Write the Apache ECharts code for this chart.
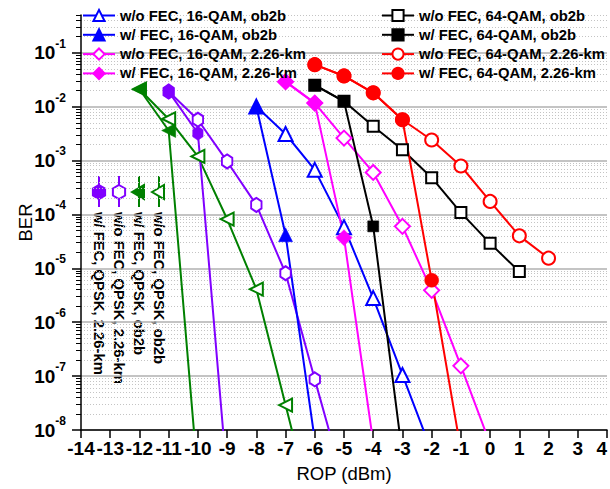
<!DOCTYPE html>
<html><head><meta charset="utf-8">
<script src="https://cdn.jsdelivr.net/npm/echarts@6/dist/echarts.min.js"></script>
<style>html,body{margin:0;padding:0;background:#fff}#c{width:610px;height:489px}</style>
</head><body><div id="c"></div>
<script>
// ---- data (ROP in dBm, BER) ----
const woQpskOb2bX = [-12, -11, -10, -9, -8, -7, -6];
const woQpskOb2bY = [2.1e-2, 5.9e-3, 1.19e-3, 8.2e-5, 4.1e-6, 2.9e-8, 2.1e-10];
const wQpskOb2bX = [-12, -11, -10];
const wQpskOb2bY = [2.1e-2, 3.6e-3, 1.3e-9];
const woQpsk226X = [-11, -10, -9, -8, -7, -6, -5];
const woQpsk226Y = [1.9e-2, 5.7e-3, 9.6e-4, 1.5e-4, 8.1e-6, 8.7e-8, 1.0e-9];
const wQpsk226X = [-11, -10, -9];
const wQpsk226Y = [1.9e-2, 3.2e-3, 1.3e-9];

const wo16Ob2bX = [-8, -7, -6, -5, -4, -3, -2];
const wo16Ob2bY = [1.0e-2, 3.1e-3, 6.7e-4, 5.8e-5, 2.8e-6, 1.05e-7, 4.0e-9];
const w16Ob2bX = [-8, -7, -6];
const w16Ob2bY = [1.0e-2, 4.2e-5, 6.5e-9];
const wo16226X = [-7, -6, -5, -4, -3, -2, -1, 0];
const wo16226Y = [2.9e-2, 1.16e-2, 2.6e-3, 6.0e-4, 6.0e-5, 3.9e-6, 1.55e-7, 5.5e-9];
const w16226X = [-7, -6, -5, -4];
const w16226Y = [2.9e-2, 1.16e-2, 3.7e-5, 5.9e-9];

const wo64Ob2bX = [-6, -5, -4, -3, -2, -1, 0, 1];
const wo64Ob2bY = [2.5e-2, 1.25e-2, 4.3e-3, 1.58e-3, 4.8e-4, 1.08e-4, 2.9e-5, 8.7e-6];
const w64Ob2bX = [-6, -5, -4, -3];
const w64Ob2bY = [2.5e-2, 1.25e-2, 6.0e-5, 3.4e-9];
const wo64226X = [-6, -5, -4, -3, -2, -1, 0, 1, 2];
const wo64226Y = [6.0e-2, 3.7e-2, 1.8e-2, 5.7e-3, 2.4e-3, 7.9e-4, 1.74e-4, 4.0e-5, 1.54e-5];
const w64226X = [-6, -5, -4, -3, -2, -1];
const w64226Y = [6.0e-2, 3.7e-2, 1.8e-2, 5.7e-3, 6.0e-6, 4.2e-9];

const yMajorTicks = [1e-8, 1e-7, 1e-6, 1e-5, 1e-4, 1e-3, 1e-2, 1e-1];
const yMinorMult = [2, 3, 4, 5, 6, 7, 8, 9];

const legendLeft = ['w/o FEC, 16-QAM, ob2b', 'w/ FEC, 16-QAM, ob2b', 'w/o FEC, 16-QAM, 2.26-km', 'w/ FEC, 16-QAM, 2.26-km'];
const legendRight = ['w/o FEC, 64-QAM, ob2b', 'w/ FEC, 64-QAM, ob2b', 'w/o FEC, 64-QAM, 2.26-km', 'w/ FEC, 64-QAM, 2.26-km'];
const legendQpsk = ['w/ FEC, QPSK, 2.26-km', 'w/o FEC, QPSK, 2.26-km', 'w/ FEC, QPSK, ob2b', 'w/o FEC, QPSK, ob2b'];

// ---- styling ----
const BLUE = '#0000ff', MAG = '#ff00ff', BLK = '#000000', RED = '#ff0000', GRN = '#008000', PUR = '#8000ff';
const FONT = '"Liberation Sans", Arial, sans-serif';
const HEX = 'path://M0,-1 L0.866,-0.5 L0.866,0.5 L0,1 L-0.866,0.5 L-0.866,-0.5 Z';

const yMinorTicks = [];
for (const d of yMajorTicks.concat([1])) {
  for (const k of yMinorMult) {
    const v = k * d / 10;
    if (v > 1e-8 && v <= 0.5) yMinorTicks.push(v);
  }
}

function zip(xs, ys) { return xs.map((x, i) => [x, ys[i]]); }
function ser(name, xs, ys, color, symbol, size, open, rot) {
  return {
    name, type: 'line', data: zip(xs, ys), showAllSymbol: true, clip: true,
    symbol, symbolSize: size, symbolRotate: rot || 0, symbolKeepAspect: true,
    lineStyle: { color, width: 2 },
    itemStyle: open ? { color: '#ffffff', borderColor: color, borderWidth: 2 } : { color, borderColor: color, borderWidth: 0.5 },
    emphasis: { disabled: true }, animation: false
  };
}

const series = [
  ser('w/o FEC, QPSK, ob2b', woQpskOb2bX, woQpskOb2bY, GRN, 'triangle', 13, true, 90),
  ser('w/o FEC, QPSK, 2.26-km', woQpsk226X, woQpsk226Y, PUR, HEX, [12, 14], true),
  ser('w/o FEC, 16-QAM, ob2b', wo16Ob2bX, wo16Ob2bY, BLUE, 'triangle', 14, true),
  ser('w/o FEC, 16-QAM, 2.26-km', wo16226X, wo16226Y, MAG, 'diamond', 15, true),
  ser('w/o FEC, 64-QAM, ob2b', wo64Ob2bX, wo64Ob2bY, BLK, 'rect', 11, true),
  ser('w/o FEC, 64-QAM, 2.26-km', wo64226X, wo64226Y, RED, 'circle', 13, true),
  ser('w/ FEC, QPSK, ob2b', wQpskOb2bX, wQpskOb2bY, GRN, 'triangle', 14, false, 90),
  ser('w/ FEC, QPSK, 2.26-km', wQpsk226X, wQpsk226Y, PUR, HEX, [12, 14], false),
  ser('w/ FEC, 16-QAM, ob2b', w16Ob2bX, w16Ob2bY, BLUE, 'triangle', 14, false),
  ser('w/ FEC, 16-QAM, 2.26-km', w16226X, w16226Y, MAG, 'diamond', 16, false),
  ser('w/ FEC, 64-QAM, ob2b', w64Ob2bX, w64Ob2bY, BLK, 'rect', 11, false),
  ser('w/ FEC, 64-QAM, 2.26-km', w64226X, w64226Y, RED, 'circle', 14, false)
];

// rotated QPSK legend drawn as graphics
const qpskStyle = [
  { color: PUR, shape: 'hex', open: false },
  { color: PUR, shape: 'hex', open: true },
  { color: GRN, shape: 'tri', open: false },
  { color: GRN, shape: 'tri', open: true }
];
const qGraphics = [];
legendQpsk.forEach((name, i) => {
  const st = qpskStyle[i];
  const cx = 99 + i * 20, cy = 192;
  qGraphics.push({ type: 'line', shape: { x1: cx, y1: 176, x2: cx, y2: 207 }, style: { stroke: st.color, lineWidth: 2 } });
  let pts;
  if (st.shape === 'hex') {
    pts = [[cx, cy - 7], [cx + 6.1, cy - 3.5], [cx + 6.1, cy + 3.5], [cx, cy + 7], [cx - 6.1, cy + 3.5], [cx - 6.1, cy - 3.5]];
  } else {
    pts = [[cx - 7, cy], [cx + 5, cy - 7], [cx + 5, cy + 7]];
  }
  qGraphics.push({ type: 'polygon', shape: { points: pts }, style: { fill: st.open ? '#fff' : st.color, stroke: st.color, lineWidth: 2 } });
  qGraphics.push({
    type: 'text', x: cx, y: 212, rotation: -Math.PI / 2,
    style: { text: name, fill: '#000', fontSize: 14.8, fontWeight: 'bold', fontFamily: FONT, align: 'left', verticalAlign: 'middle' }
  });
});

const legendCommon = {
  orient: 'vertical', itemWidth: 32, itemHeight: 14, itemGap: 4.3, padding: 0,
  selectedMode: false,
  textStyle: { fontSize: 14.8, fontWeight: 'bold', fontFamily: FONT, color: '#000', lineHeight: 14 }
};

const option = {
  backgroundColor: '#ffffff',
  textStyle: { fontFamily: FONT },
  animation: false,
  grid: { left: 81, right: 3, top: 15, bottom: 59, containLabel: false, outerBoundsMode: 'none' },
  legend: [
    Object.assign({ data: legendLeft, left: 82, top: 8 }, legendCommon),
    Object.assign({ data: legendRight, left: 381, top: 8 }, legendCommon)
  ],
  xAxis: {
    type: 'value', min: -14, max: 4, interval: 1,
    axisLine: { onZero: false, lineStyle: { color: '#000', width: 1.5 } },
    axisTick: { length: 8, lineStyle: { color: '#000', width: 1.5 } },
    axisLabel: { fontSize: 19, fontWeight: 'bold', color: '#000', margin: 9, fontFamily: FONT, alignMaxLabel: 'right' },
    splitLine: { show: false },
    name: 'ROP (dBm)', nameLocation: 'middle', nameGap: 34, nameMoveOverlap: false,
    nameTextStyle: { fontSize: 18.5, color: '#000', fontFamily: FONT }
  },
  yAxis: [
    {
      type: 'log', logBase: 10, min: 1e-8, max: 0.5,
      axisLine: { show: true, onZero: false, lineStyle: { color: '#000', width: 1.5 } },
      axisTick: { show: true, length: 9, customValues: yMajorTicks, lineStyle: { color: '#000', width: 1.5 } },
      axisLabel: {
        customValues: yMajorTicks, margin: 15,
        formatter: v => '{b|10}{s|' + Math.round(Math.log10(v)) + '}',
        rich: {
          b: { fontSize: 19, fontWeight: 'bold', color: '#000', fontFamily: FONT, lineHeight: 30, verticalAlign: 'middle' },
          s: { fontSize: 12, fontWeight: 'bold', color: '#000', fontFamily: FONT, lineHeight: 12, verticalAlign: 'top' }
        }
      },
      splitLine: { show: true, lineStyle: { color: '#b0b0b0', width: 1.5 } },
      name: 'BER', nameLocation: 'middle', nameGap: 46, nameMoveOverlap: false,
      nameTextStyle: { fontSize: 18.5, color: '#000', fontFamily: FONT }
    },
    {
      type: 'log', logBase: 10, min: 1e-8, max: 0.5, position: 'left',
      axisLine: { show: false, onZero: false },
      axisTick: { show: true, length: 5, customValues: yMinorTicks, lineStyle: { color: '#000', width: 1 } },
      axisLabel: { show: false },
      splitLine: { show: true, lineStyle: { color: '#c4c4c4', width: 1, type: [1, 2] } }
    }
  ],
  graphic: qGraphics,
  series
};

const chart = echarts.init(document.getElementById('c'), null, { renderer: 'svg' });
chart.setOption(option);
</script>
</body></html>
